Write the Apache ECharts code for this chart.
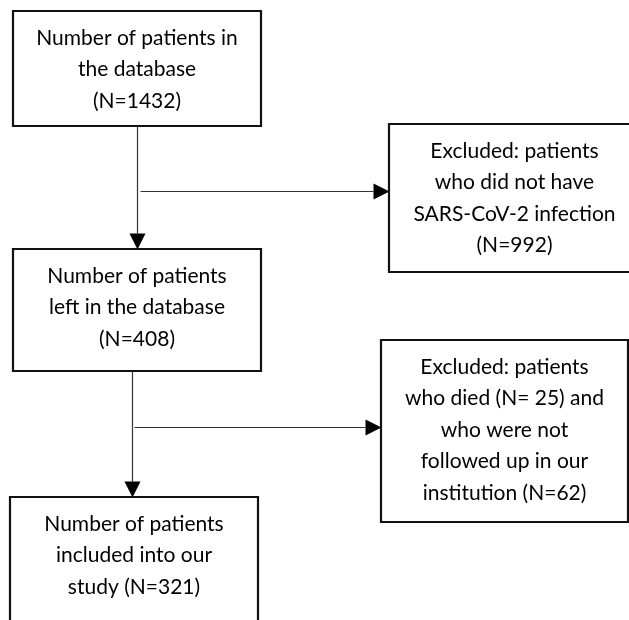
<!DOCTYPE html>
<html>
<head>
<meta charset="utf-8">
<script src="https://cdn.jsdelivr.net/npm/echarts@6/dist/echarts.min.js"></script>
<style>
  html, body { margin: 0; padding: 0; background: #fff; }
  #chart { width: 629px; height: 620px; }
</style>
</head>
<body>
<div id="chart"></div>
<script>
// flow chart content
var boxTexts = [
    'Number of patients in\nthe database\n(N=1432)',
    'Excluded: patients\nwho did not have\nSARS-CoV-2 infection\n(N=992)',
    'Number of patients\nleft in the database\n(N=408)',
    'Excluded: patients\nwho died (N= 25) and\nwho were not\nfollowed up in our\ninstitution (N=62)',
    'Number of patients\nincluded into our\nstudy (N=321)'
];
// box extents in the page's coordinate frame: [x0, y0, x1, y1]
var boxLayout = [
    [13, 11, 261, 126],
    [389, 124, 640, 272],
    [13, 249, 261, 371],
    [381, 340, 628, 522],
    [10, 497, 258, 640]
];
// arrows: [fromX, fromY, toX, toY]
var arrowLayout = [
    [137, 126, 137, 249],
    [140, 191, 389, 191],
    [132, 371, 132, 497],
    [134, 427, 381, 427]
];

(function () {
    var myChart = echarts.init(document.getElementById('chart'));

    function renderBox(params, api) {
        var p0 = api.coord([api.value(0), api.value(1)]);
        var p1 = api.coord([api.value(2), api.value(3)]);
        var txt = boxTexts[params.dataIndex];
        return {
            type: 'group',
            children: [
                {
                    type: 'rect',
                    shape: { x: p0[0], y: p0[1], width: p1[0] - p0[0], height: p1[1] - p0[1] },
                    style: { fill: '#fff', stroke: '#111', lineWidth: 2.2 }
                },
                {
                    type: 'text',
                    style: {
                        text: txt,
                        x: (p0[0] + p1[0]) / 2,
                        y: p0[1] + 11,
                        align: 'center',
                        verticalAlign: 'top',
                        font: '21px Lato, "Open Sans", sans-serif',
                        lineHeight: 31.5,
                        fill: '#000'
                    }
                }
            ]
        };
    }

    function renderArrow(params, api) {
        var a = api.coord([api.value(0), api.value(1)]);
        var b = api.coord([api.value(2), api.value(3)]);
        var dx = b[0] - a[0], dy = b[1] - a[1];
        var len = Math.sqrt(dx * dx + dy * dy);
        var ux = dx / len, uy = dy / len;
        var headL = 16, headW = 8;
        var base = [b[0] - ux * headL, b[1] - uy * headL];
        return {
            type: 'group',
            children: [
                {
                    type: 'line',
                    shape: { x1: a[0] + 0.5, y1: a[1] + 0.5, x2: base[0] + 0.5, y2: base[1] + 0.5 },
                    style: { stroke: '#333', lineWidth: 1.2 }
                },
                {
                    type: 'polygon',
                    shape: {
                        points: [
                            [b[0] + 0.5, b[1] + 0.5],
                            [base[0] - uy * headW + 0.5, base[1] + ux * headW + 0.5],
                            [base[0] + uy * headW + 0.5, base[1] - ux * headW + 0.5]
                        ]
                    },
                    style: { fill: '#000' }
                }
            ]
        };
    }

    var option = {
        animation: false,
        grid: { left: 0, right: 0, top: 0, bottom: 0 },
        xAxis: { type: 'value', min: 0, max: 629, show: false },
        yAxis: { type: 'value', min: 0, max: 620, inverse: true, show: false },
        series: [
            {
                type: 'custom',
                clip: false,
                renderItem: renderArrow,
                data: arrowLayout
            },
            {
                type: 'custom',
                clip: false,
                renderItem: renderBox,
                data: boxLayout
            }
        ]
    };

    myChart.setOption(option);
})();
</script>
</body>
</html>
